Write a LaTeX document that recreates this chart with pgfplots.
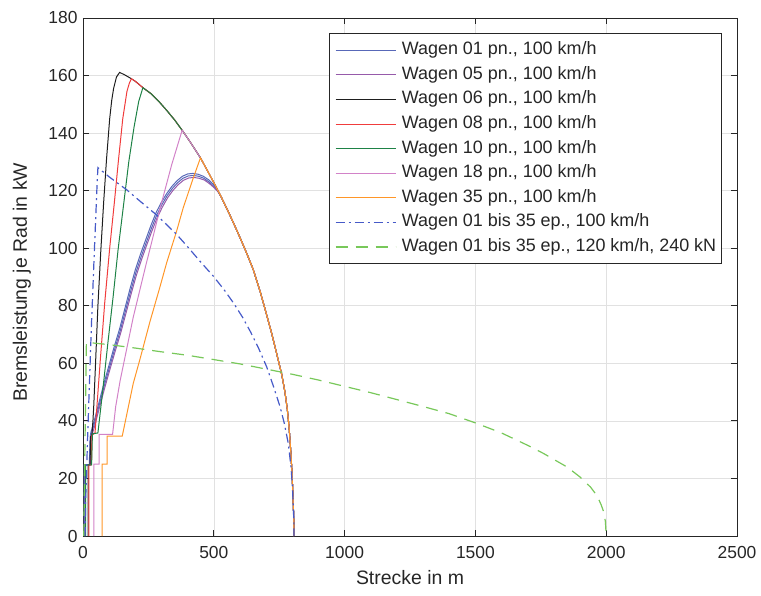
\documentclass[border=0pt]{standalone}
\usepackage{fontspec}
\setmainfont{Liberation Sans}
\usepackage{pgfplots}
\pgfplotsset{compat=1.18}
\definecolor{axc}{RGB}{38,38,38}
\definecolor{gridc}{RGB}{225,225,225}
\definecolor{c01}{RGB}{88,104,184}
\definecolor{c05}{RGB}{150,90,170}
\definecolor{c06}{RGB}{30,30,30}
\definecolor{c08}{RGB}{240,60,60}
\definecolor{c10}{RGB}{30,130,70}
\definecolor{c18}{RGB}{210,130,200}
\definecolor{c35}{RGB}{255,150,40}
\definecolor{cep}{RGB}{70,90,200}
\definecolor{cgr}{RGB}{120,200,90}
\begin{document}
\begin{tikzpicture}
\begin{axis}[
  at={(0,0)}, anchor=south west,
  scale only axis, width=654bp, height=518bp,
  xmin=0, xmax=2500, ymin=0, ymax=180,
  xtick={0,500,...,2500}, ytick={0,20,...,180},
  grid=major, major grid style={color=gridc, line width=0.6bp},
  axis line style={color=axc, line width=0.8bp},
  tick style={color=axc, line width=0.8bp},
  tick align=inside, major tick length=6bp,
  ticklabel style={font=\fontsize{17.5}{20}\selectfont, color=axc},
  /pgf/number format/assume math mode=true,
  /pgf/number format/set thousands separator={},
  xticklabel style={yshift=-6.5bp},
  yticklabel style={xshift=-2bp},
  xlabel={Strecke in m}, ylabel={Bremsleistung je Rad in kW},
  label style={font=\fontsize{19.5}{22}\selectfont, color=axc},
  xlabel style={at={(axis description cs:0.5,-0.0811)}, anchor=center},
  ylabel style={at={(axis description cs:-0.0933,0.49)}, anchor=center},
  no markers,
  every axis plot/.append style={line width=1bp},
  legend style={at={(0.9775,0.9705)}, anchor=north east, draw=axc, line width=0.8bp, fill=white,
    font=\fontsize{18}{21}\selectfont, text=axc, inner xsep=5.7bp, inner ysep=7.6bp,
    row sep=6.6bp, column sep=5.6bp,
    nodes={inner sep=0bp, text height=13.5bp, text depth=4.5bp}},
  legend cell align=left,
  legend image code/.code={\draw[#1] (0bp,0bp) -- (60bp,0bp);},
]
% Wagen 01
\addplot[color=c01] coordinates {(4,0)(4,24.7)(24,24.7)(27,34)(30,36)(40,39)(60,46)(80,53)(100,59.5)(120,66)(140,72)(160,79)(180,86)(200,92.5)(220,98)(240,103)(260,108)(280,112.5)(300,116)(320,119)(340,121.5)(360,123.5)(380,125)(400,125.8)(420,126)(440,125.7)(460,125)(480,123.8)(500,122)(515,120)(530,117.5)(560,111.8)(590,105.8)(620,99.5)(650,92.8)(677,85.0)(700,77.5)(721,70.5)(740,63.5)(760,56.0)(772,50.0)(781,44.0)(788,37.5)(795,28.5)(800,20.0)(803,13.0)(805,8.0)(806.5,3.0)(807,0)};
\addlegendentry{Wagen 01 pn., 100 km/h}
\addplot[color=c01, forget plot] coordinates {(6,0)(6,24.7)(26,24.7)(29,34)(32,35.5)(42,38.5)(62,45.5)(82,52.4)(102,58.8)(122,65.2)(142,71.2)(162,78.1)(182,85)(202,91.5)(222,97)(242,102)(262,107)(282,111.6)(302,115.2)(322,118.3)(342,120.8)(362,122.8)(382,124.3)(402,125.1)(422,125.3)(442,125)(462,124.3)(482,123)(502,121.3)(517,119.6)(530,117.5)(560,111.8)(590,105.8)(620,99.5)(650,92.8)(677,85.0)(700,77.5)(721,70.5)(740,63.5)(760,56.0)(772,50.0)(781,44.0)(788,37.5)(795,28.5)(800,20.0)(803,13.0)(805,8.0)(806.5,3.0)(807,0)};
% Wagen 05
\addplot[color=c05] coordinates {(8,0)(8,24.7)(28,24.7)(31,33.5)(34,35)(44,38)(64,45)(84,51.8)(104,58.2)(124,64.5)(144,70.5)(164,77.3)(184,84.1)(204,90.6)(224,96.1)(244,101.2)(264,106.1)(284,110.7)(304,114.4)(324,117.6)(344,120.1)(364,122.1)(384,123.6)(404,124.4)(424,124.6)(444,124.3)(464,123.7)(484,122.4)(504,120.8)(518,119.4)(530,117.5)(560,111.8)(590,105.8)(620,99.5)(650,92.8)(677,85.0)(700,77.5)(721,70.5)(740,63.5)(760,56.0)(772,50.0)(781,44.0)(788,37.5)(795,28.5)(800,20.0)(803,13.0)(805,8.0)(806.5,3.0)(807,0)};
\addlegendentry{Wagen 05 pn., 100 km/h}
% Wagen 06
\addplot[color=c06] coordinates {(20,0)(20,24.7)(27,24.7)(29,34.5)(34,35)(38,40)(41,45)(48,60)(57,80)(68,99)(79,116)(90,131)(102,145)(110,151.5)(117,155.5)(128,159.5)(140,161.1)(160,160.2)(185,158.9)(200,158.0)(229,155.8)(260,153.7)(290,151.0)(320,147.9)(350,144.6)(379,141.0)(410,136.9)(449,131.4)(480,126.2)(510,121.1)(530,117.5)(560,111.8)(590,105.8)(620,99.5)(650,92.8)(677,85.0)(700,77.5)(721,70.5)(740,63.5)(760,56.0)(772,50.0)(781,44.0)(788,37.5)(795,28.5)(800,20.0)(803,13.0)(805,8.0)(806.5,3.0)(807,0)};
\addlegendentry{Wagen 06 pn., 100 km/h}
% Wagen 08
\addplot[color=c08] coordinates {(22,0)(22,24.7)(32,24.7)(34,35)(46,35.8)(54,46)(66,61)(83,81)(102,100)(120,116)(136,131)(152,145)(168,154.5)(177,157.3)(185,158.9)(200,158.0)(229,155.8)(260,153.7)(290,151.0)(320,147.9)(350,144.6)(379,141.0)(410,136.9)(449,131.4)(480,126.2)(510,121.1)(530,117.5)(560,111.8)(590,105.8)(620,99.5)(650,92.8)(677,85.0)(700,77.5)(721,70.5)(740,63.5)(760,56.0)(772,50.0)(781,44.0)(788,37.5)(795,28.5)(800,20.0)(803,13.0)(805,8.0)(806.5,3.0)(807,0)};
\addlegendentry{Wagen 08 pn., 100 km/h}
% Wagen 10
\addplot[color=c10] coordinates {(10,0)(10,24.7)(33,24.7)(36,35.5)(57,35.8)(76,51)(95,67)(115,83)(134,99.4)(155,115)(175,130)(195,142)(213,151)(229,155.8)(260,153.7)(290,151.0)(320,147.9)(350,144.6)(379,141.0)(410,136.9)(449,131.4)(480,126.2)(510,121.1)(530,117.5)(560,111.8)(590,105.8)(620,99.5)(650,92.8)(677,85.0)(700,77.5)(721,70.5)(740,63.5)(760,56.0)(772,50.0)(781,44.0)(788,37.5)(795,28.5)(800,20.0)(803,13.0)(805,8.0)(806.5,3.0)(807,0)};
\addlegendentry{Wagen 10 pn., 100 km/h}
% Wagen 18
\addplot[color=c18] coordinates {(42,0)(42,25)(62,25)(62,35.3)(113,35.3)(125,45)(142,54)(192,76)(240,94)(265,103)(295,114)(339,129)(379,141.0)(410,136.9)(449,131.4)(480,126.2)(510,121.1)(530,117.5)(560,111.8)(590,105.8)(620,99.5)(650,92.8)(677,85.0)(700,77.5)(721,70.5)(740,63.5)(760,56.0)(772,50.0)(781,44.0)(788,37.5)(795,28.5)(800,20.0)(803,13.0)(805,8.0)(806.5,3.0)(807,0)};
\addlegendentry{Wagen 18 pn., 100 km/h}
% Wagen 35
\addplot[color=c35] coordinates {(73,0)(73,25)(92,25)(92,34.7)(150,34.7)(192,53)(218,61.5)(256,74.5)(294,86.5)(320,95)(358,106)(383,114)(420,124)(449,131.4)(480,126.2)(510,121.1)(530,117.5)(560,111.8)(590,105.8)(620,99.5)(650,92.8)(677,85.0)(700,77.5)(721,70.5)(740,63.5)(760,56.0)(772,50.0)(781,44.0)(788,37.5)(795,28.5)(800,20.0)(803,13.0)(805,8.0)(806.5,3.0)(807,0)};
\addlegendentry{Wagen 35 pn., 100 km/h}
% ep 100
\addplot[color=cep, line width=1.2bp, dash pattern=on 9bp off 4bp on 2bp off 4bp] coordinates {(8,0)(10,12)(19,38)(32,72.7)(44.6,101.7)(53.5,121.4)(57,128)(65,127.4)(100,124.8)(167,120.3)(220,116.2)(282,111.5)(358,104.8)(400,100.5)(447,95.5)(498,90.3)(540,85.5)(575,81)(610,76)(640,71)(670,65.5)(702,58.8)(728,52)(753,45)(770,39)(785,32)(795,24)(800,18)(804,10)(806,5)(807,0)};
\addlegendentry{Wagen 01 bis 35 ep., 100 km/h}
% ep 120
\addplot[color=cgr, line width=1.2bp, dash pattern=on 12bp off 8bp] coordinates {(3,0)(8,35)(13,67.3)(100,66.5)(200,65.3)(300,64)(400,62.8)(500,61.3)(600,59.8)(700,58)(800,56.2)(900,54.2)(1000,52)(1100,49.8)(1200,47.4)(1300,45)(1400,42.5)(1500,39.3)(1600,35.8)(1700,31.5)(1760,28.7)(1800,26.6)(1850,24)(1900,20.5)(1940,17)(1965,14)(1980,11)(1990,8.5)(1997,5)(2000,0)};
\addlegendentry{Wagen 01 bis 35 ep., 120 km/h, 240 kN}
\end{axis}
\pgfresetboundingbox
\path[use as bounding box] (-83bp,-60bp) rectangle (678bp,536bp);
\end{tikzpicture}
\end{document}
